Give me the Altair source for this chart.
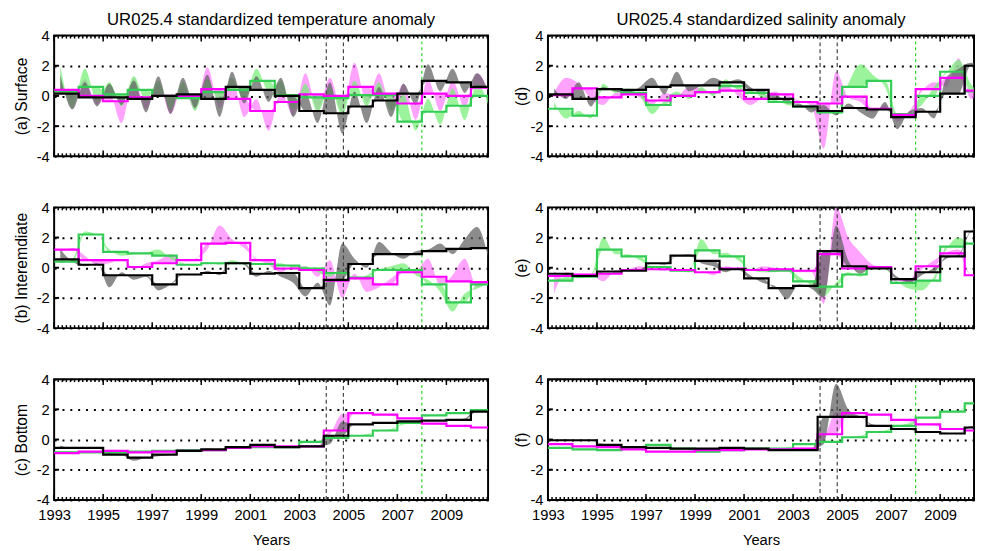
import altair as alt
import pandas as pd

YEARS = list(range(1993, 2011))
TICK_YEARS = [1993, 1995, 1997, 1999, 2001, 2003, 2005, 2007, 2009]
Y_TICKS = [-2, 0, 2]
EVENT_BLACK = [2004.1, 2004.8]
EVENT_GREEN = [2008.0]
X_END_LEFT = 2010.7
X_END_RIGHT = 2010.38
W_LEFT = 442
W_RIGHT = 434
H = 123

TITLE_T = "UR025.4 standardized temperature anomaly"
TITLE_S = "UR025.4 standardized salinity anomaly"

# ---------------- annual (step) values, 1993..2010 ----------------
a_black = [0.15, -0.1, -0.1, -0.2, 0.0, 0.1, -0.2, 0.6, 0.4, 0.0, -1.0, -1.15, -0.7, -0.3, 0.15, 1.0, 0.9, 0.6]
a_magenta = [0.4, 0.0, -0.35, -0.1, 0.0, 0.0, 0.45, -0.2, -1.0, -0.4, 0.1, 0.0, 0.6, 0.15, -0.5, 0.15, 0.0, 0.55]
a_green = [0.3, 0.6, 0.1, 0.4, 0.0, -0.15, 0.25, 0.4, 1.0, 0.05, -0.1, -0.15, 0.05, 0.05, -1.7, -1.05, -0.65, 0.0]

b_black = [0.55, 0.2, -0.5, -0.5, -1.1, -0.45, -0.35, 0.3, -0.4, -0.35, -1.35, -0.8, 0.25, 0.9, 0.9, 1.1, 1.25, 1.3]
b_magenta = [1.2, 0.5, 0.5, 0.05, 0.3, 0.5, 1.6, 1.65, 0.5, -0.05, -0.15, -0.85, -0.7, -1.1, -0.3, -0.6, -0.9, -0.95]
b_green = [0.4, 2.2, 1.05, 0.95, 0.8, 0.2, 0.3, 0.3, 0.25, 0.15, -0.05, -0.35, -0.65, -0.15, -0.15, -1.1, -2.3, -1.1]

c_black = [-0.55, -0.55, -1.0, -1.2, -1.0, -0.75, -0.65, -0.5, -0.35, -0.5, -0.45, 0.25, 1.0, 1.1, 1.2, 1.25, 1.3, 1.85]
c_magenta = [-0.9, -0.8, -0.75, -0.85, -0.8, -0.75, -0.7, -0.55, -0.45, -0.45, -0.45, 0.6, 1.75, 1.65, 1.4, 1.05, 0.9, 0.8]
c_green = [-0.85, -0.85, -0.85, -0.8, -0.75, -0.7, -0.7, -0.55, -0.5, -0.5, -0.15, 0.1, 0.25, 0.6, 1.1, 1.6, 1.75, 1.95]

d_black = [0.1, -0.2, 0.45, 0.4, 0.6, 0.7, 0.7, 0.9, 0.4, -0.2, -0.7, -1.0, -0.8, -0.9, -1.4, -1.05, 0.15, 2.0]
d_magenta = [0.05, 0.5, -0.1, 0.1, -0.3, 0.0, 0.25, 0.35, -0.2, 0.1, -0.4, -0.5, -0.05, -0.85, -1.25, 0.45, 1.2, 0.35]
d_green = [-0.85, -1.3, 0.45, 0.2, -0.6, 0.0, 0.25, 0.65, 0.2, -0.4, -0.7, -1.1, 0.6, 1.0, -1.2, 0.0, 1.6, 0.3]

e_black = [-0.4, -0.55, -0.25, -0.2, 0.3, 0.8, 0.45, -0.1, -0.7, -1.35, -1.2, 1.1, 0.1, -0.05, -0.75, -0.3, 0.75, 2.4]
e_magenta = [-0.55, -0.45, -0.4, -0.15, -0.1, -0.15, -0.3, -0.05, -0.15, -0.1, -0.2, 0.9, -0.05, 0.05, -0.75, 0.1, 0.95, -0.5]
e_green = [-0.85, -0.6, 1.2, 0.75, 0.05, -0.2, 1.15, 0.75, -0.15, -0.2, -0.9, -1.25, -0.45, 0.0, -1.0, -0.85, 1.4, 1.6]

f_black = [-0.05, -0.05, -0.35, -0.5, -0.55, -0.6, -0.6, -0.55, -0.6, -0.7, -0.7, 1.5, 1.5, 0.9, 0.7, 0.5, 0.4, 0.8]
f_magenta = [-0.3, -0.45, -0.5, -0.65, -0.8, -0.8, -0.7, -0.7, -0.65, -0.65, -0.6, 0.35, 1.75, 1.65, 1.3, 1.0, 0.7, 0.6]
f_green = [-0.55, -0.65, -0.7, -0.5, -0.35, -0.6, -0.8, -0.7, -0.6, -0.6, -0.3, -0.15, 0.15, 0.5, 0.9, 1.45, 1.85, 2.4]

# ------------- sub-annual values (Y+0.25, Y+0.75), 1993..2010 -------------
a_black_sh = [1.4, -0.9, 0.9, -0.7, 0.8, -0.6, 1.0, -1.1, 1.3, -1.2, 1.2, -0.8, 1.4, -1.4, 1.6, -0.5, 1.3, -0.4,
              1.2, -1.4, 0.2, -1.8, 0.9, -2.5, 0.3, -1.8, 0.6, -1.4, 0.8, -0.6, 2.1, 0.3, 1.8, 0.2, 1.5, 0.1]
a_magenta_sh = [0.9, -0.3, 1.1, -0.6, 0.2, -1.8, 1.2, -0.9, 0.8, -1.2, 0.6, -0.9, 1.9, -0.8, 1.2, -1.4, -0.2, -2.3,
                0.3, -1.3, 1.5, -1.0, 1.2, -1.1, 2.2, -0.5, 1.5, -0.8, 0.8, -1.6, 1.1, -1.0, 1.0, -0.8, 1.5, 0.2]
a_green_sh = [2.0, -0.8, 1.8, -0.4, 0.9, -0.7, 1.3, -0.4, 1.0, -0.9, 0.9, -1.0, 1.1, -0.5, 1.2, -0.3, 1.8, 0.3,
              1.0, -0.9, 0.8, -1.1, 0.6, -1.3, 1.0, -0.7, 0.9, -1.0, 0.1, -2.3, -0.2, -1.9, 0.5, -1.6, 0.8, -0.8]

b_black_sh = [1.2, 0.4, 0.1, 0.3, -1.3, -0.3, -0.8, -0.6, -1.5, -1.1, -0.4, -0.5, -0.2, -0.5, 0.4, 0.2, -0.6, -0.2,
              -0.6, -1.0, -1.9, -1.0, -2.5, 1.6, 0.6, 0.0, 1.7, 1.0, 0.6, 1.1, 1.2, 1.6, 0.9, 1.9, 2.7, 0.4]
b_magenta_sh = [1.0, 1.3, 0.8, 0.2, 0.3, 0.6, -0.1, 0.3, 0.5, 0.9, 0.5, 0.6, 1.2, 2.8, 1.9, 1.3, 0.6, 0.2,
                -0.3, 0.1, 0.1, -0.6, 0.5, -2.0, -0.4, -1.6, -1.3, -0.7, -0.2, -0.2, 0.6, -1.2, -0.5, 0.6, -1.3, -0.8]
b_green_sh = [0.3, 0.6, 2.4, 2.2, 1.2, 0.8, 0.9, 1.0, 1.2, 0.6, 0.3, 0.1, 0.4, 0.2, 0.5, 0.3, 0.2, 0.3,
              0.3, 0.0, 0.1, -0.3, -0.6, -0.1, -0.8, -0.5, -0.1, 0.1, 0.3, -0.5, -0.8, -1.6, -2.9, -1.7, -1.4, -1.0]

c_black_sh = [-0.4, -0.6, -0.55, -0.55, -0.9, -1.0, -1.4, -1.2, -1.1, -1.0, -0.75, -0.75, -0.6, -0.65, -0.5, -0.45,
              -0.35, -0.4, -0.5, -0.5, -0.5, -0.45, -0.3, 1.2, 1.0, 1.0, 1.1, 1.1, 1.2, 1.2, 1.25, 1.25, 1.3, 1.4, 2.0, 1.9]
c_magenta_sh = [-0.85, -0.9, -0.8, -0.8, -0.75, -0.8, -0.9, -0.85, -0.8, -0.8, -0.75, -0.7, -0.7, -0.65, -0.55, -0.5,
                -0.45, -0.45, -0.45, -0.45, -0.45, -0.4, 0.3, 1.7, 1.75, 1.75, 1.65, 1.6, 1.4, 1.35, 1.05, 1.0, 0.9, 0.85, 0.8, 0.8]
c_green_sh = [-0.8, -0.9, -0.85, -0.85, -0.8, -0.9, -0.8, -0.75, -0.75, -0.7, -0.7, -0.7, -0.7, -0.65, -0.55, -0.5,
              -0.5, -0.5, -0.5, -0.45, -0.2, -0.1, 0.05, 0.15, 0.25, 0.35, 0.55, 0.7, 1.0, 1.2, 1.55, 1.65, 1.75, 1.8, 1.9, 2.0]

d_black_sh = [0.5, -0.2, 0.9, -0.7, 0.6, 0.3, 0.2, 0.6, 1.2, 0.1, 1.6, 0.3, 0.7, 1.2, 0.9, 1.1, 0.6, 0.1,
              0.2, -0.5, -0.5, -1.1, -0.6, -1.3, -0.5, -1.1, -1.5, -0.4, -2.2, -1.0, -0.8, -1.5, 1.2, 1.8, 2.2, 1.9]
d_magenta_sh = [0.2, 1.2, 0.8, -0.2, -0.6, 0.2, 0.3, -0.1, -0.6, 0.2, 0.0, 0.6, 0.5, 0.1, 0.7, 0.0, -0.6, -0.1,
                0.3, -0.1, -0.3, -0.7, -3.5, 1.6, -0.1, -0.4, -1.1, -0.6, -1.7, -1.0, 0.3, 0.9, 0.6, 2.5, -0.2, 0.4]
d_green_sh = [-0.4, -1.5, -1.0, -1.5, 0.8, 0.2, 0.5, 0.0, -1.2, -0.3, 0.3, -0.2, 0.6, 0.0, 1.1, 0.4, 0.4, -0.1,
              -0.2, -0.6, -0.7, -0.9, -1.0, -1.2, 0.8, 2.1, 1.4, 0.6, -1.5, -1.1, -0.6, 0.6, 1.5, 2.4, 0.8, 0.0]

e_black_sh = [-0.3, -0.5, -0.6, -0.5, -0.3, -0.2, -0.2, -0.1, 0.3, 0.2, 0.8, 0.9, 0.3, 0.1, -0.3, 0.0, -0.5, -1.0,
              -1.2, -2.1, -1.1, -1.4, -2.0, 2.8, 0.5, -0.4, 0.1, 0.0, -0.6, -1.0, -0.5, 0.0, 0.6, 0.9, 2.4, 3.0]
e_magenta_sh = [-1.7, -0.3, -0.5, -0.5, -0.9, -0.2, -0.1, 0.1, -0.1, -0.2, -0.1, -0.3, -0.3, -0.5, 0.1, -0.1, -0.2, 0.1,
                0.0, -0.1, -0.3, -0.3, -2.4, 4.0, 2.0, 1.0, 0.2, 0.0, -0.8, -1.0, -0.1, 0.5, 1.0, 1.2, -0.5, -0.7]
e_green_sh = [-0.9, -0.6, -0.7, -0.5, 2.0, 0.9, 0.9, 0.5, 0.1, 0.0, -0.2, -0.3, 1.9, 0.9, 1.0, 0.5, -0.1, -0.3,
              -0.3, -0.1, -0.6, -1.2, -1.9, -1.0, -0.3, -0.6, 0.1, -0.1, -0.9, -1.4, -1.5, -0.6, 1.2, 2.0, 1.6, 1.5]

f_black_sh = [-0.05, 0.0, -0.1, -0.1, -0.3, -0.4, -0.5, -0.5, -0.55, -0.55, -0.6, -0.6, -0.6, -0.6, -0.55, -0.55,
              -0.6, -0.6, -0.7, -0.7, -0.7, -0.65, -0.3, 3.7, 2.0, 1.5, 1.0, 0.9, 0.75, 0.65, 0.5, 0.5, 0.45, 0.4, 0.9, 0.9]
f_magenta_sh = [-0.2, -0.35, -0.45, -0.45, -0.5, -0.55, -0.65, -0.7, -0.8, -0.8, -0.8, -0.75, -0.7, -0.7, -0.7, -0.7,
                -0.65, -0.65, -0.65, -0.6, -0.6, -0.55, 0.0, 1.8, 1.75, 1.75, 1.65, 1.6, 1.3, 1.2, 1.0, 0.95, 0.7, 0.65, 0.6, 0.6]
f_green_sh = [-0.5, -0.6, -0.65, -0.65, -0.7, -0.65, -0.5, -0.45, -0.3, -0.4, -0.6, -0.7, -0.8, -0.8, -0.7, -0.65,
              -0.6, -0.6, -0.6, -0.55, -0.3, -0.25, -0.15, -0.1, 0.15, 0.25, 0.5, 0.6, 0.9, 1.1, 1.45, 1.5, 1.85, 1.9, 2.4, 2.3]

FONT = "Liberation Sans"
C_BLACK = "#000000"
C_MAG = "#ff00ff"
C_GREEN = "#33cc55"
SH_GREY = "#606060"
SH_MAG = "#ff66ff"
SH_GREEN = "#70f070"


def step_df(vals, xmax):
    return pd.DataFrame({"t": YEARS + [xmax], "v": vals + [vals[-1]]})


def shade_df(curve, steps):
    t, s = [], []
    for i, y in enumerate(YEARS):
        t += [y + 0.25, y + 0.75]
        s += [steps[i], steps[i]]
    return pd.DataFrame({"t": t, "v": curve, "s": s})


def panel(steps, shades, ytitle, xmax, width, bottom, title_x, title=None):
    xs = alt.Scale(domain=[1993, xmax], nice=False, zero=False)
    ys = alt.Scale(domain=[-4, 4], nice=False, zero=False)
    if bottom:
        xaxis = alt.Axis(values=TICK_YEARS, format="d", ticks=False, domain=False, grid=False,
                         labelPadding=8, labelFlush=False, title="Years", titlePadding=10)
    else:
        xaxis = alt.Axis(values=TICK_YEARS, labels=False, ticks=False, domain=False, grid=False, title=None)
    yaxis = alt.Axis(values=[-4, -2, 0, 2, 4], grid=True, gridColor="black", gridDash=[2, 6], gridWidth=2,
                     gridOpacity=1, ticks=False, domain=False, labelPadding=5,
                     labelExpr="datum.value < 0 ? '-' + abs(datum.value) : '' + datum.value",
                     title=ytitle, titleX=title_x, titleBaseline="middle", titleFontSize=16)
    X = alt.X("t:Q", scale=xs, axis=xaxis)
    Y = alt.Y("v:Q", scale=ys, axis=yaxis)

    layers = []
    for curve, st, col, op in [(shades[1], steps[1], SH_MAG, 0.6),
                               (shades[2], steps[2], SH_GREEN, 0.7),
                               (shades[0], steps[0], SH_GREY, 0.72)]:
        layers.append(
            alt.Chart(shade_df(curve, st)).mark_area(interpolate="monotone", color=col, opacity=op, clip=True)
            .encode(x=X, y=Y, y2="s:Q")
        )

    ev_b = pd.DataFrame({"t": EVENT_BLACK})
    ev_g = pd.DataFrame({"t": EVENT_GREEN})
    layers.append(alt.Chart(ev_b).mark_rule(color="#444444", strokeDash=[4, 3], strokeWidth=1.2)
                  .encode(x=X))
    layers.append(alt.Chart(ev_g).mark_rule(color="#00cc00", strokeDash=[3, 3], strokeWidth=1)
                  .encode(x=X))

    for st, col in [(steps[2], C_GREEN), (steps[1], C_MAG), (steps[0], C_BLACK)]:
        layers.append(alt.Chart(step_df(st, xmax)).mark_line(interpolate="step-after", color=col,
                                                             strokeWidth=2.2, clip=True)
                      .encode(x=X, y=Y))

    # inward border ticks
    minor = pd.DataFrame({"t": [1993 + k / 6 for k in range(int((xmax - 1993) * 6) + 1)]})
    major = pd.DataFrame({"t": TICK_YEARS})
    for df, ln in [(minor, 3), (major, 6)]:
        layers.append(alt.Chart(df).mark_rule(color="black", strokeWidth=1.5)
                      .encode(x=X, y=alt.value(0), y2=alt.value(ln)))
        layers.append(alt.Chart(df).mark_rule(color="black", strokeWidth=1.5)
                      .encode(x=X, y=alt.value(H), y2=alt.value(H - ln)))
    yt = pd.DataFrame({"v": Y_TICKS})
    layers.append(alt.Chart(yt).mark_rule(color="black", strokeWidth=2)
                  .encode(y=Y, x=alt.value(0), x2=alt.value(5)))

    ch = alt.layer(*layers)
    if title:
        ch = ch.properties(width=width, height=H,
                           title=alt.TitleParams(title, fontSize=17, fontWeight="normal", font=FONT,
                                                 offset=0, anchor="middle", color="black"))
    else:
        ch = ch.properties(width=width, height=H)
    return ch


pa = panel([a_black, a_magenta, a_green], [a_black_sh, a_magenta_sh, a_green_sh], "(a) Surface",
           X_END_LEFT, W_LEFT, False, -33, TITLE_T)
pb = panel([b_black, b_magenta, b_green], [b_black_sh, b_magenta_sh, b_green_sh], "(b) Interemdiate",
           X_END_LEFT, W_LEFT, False, -33)
pc = panel([c_black, c_magenta, c_green], [c_black_sh, c_magenta_sh, c_green_sh], "(c) Bottom",
           X_END_LEFT, W_LEFT, True, -33)
pd_ = panel([d_black, d_magenta, d_green], [d_black_sh, d_magenta_sh, d_green_sh], "(d)",
            X_END_RIGHT, W_RIGHT, False, -27, TITLE_S)
pe = panel([e_black, e_magenta, e_green], [e_black_sh, e_magenta_sh, e_green_sh], "(e)",
           X_END_RIGHT, W_RIGHT, False, -27)
pf = panel([f_black, f_magenta, f_green], [f_black_sh, f_magenta_sh, f_green_sh], "(f)",
           X_END_RIGHT, W_RIGHT, True, -27)

left = alt.vconcat(pa, pb, pc, spacing=35)
right = alt.vconcat(pd_, pe, pf, spacing=35)
chart = (
    alt.hconcat(left, right, spacing=24)
    .properties(padding={"left": 4, "top": -3, "right": 0, "bottom": 0})
    .configure_view(stroke="black", strokeWidth=2)
    .configure_axis(labelFont=FONT, titleFont=FONT, labelFontSize=15, titleFontSize=15,
                    titleFontWeight="normal", labelColor="black", titleColor="black")
)

chart.save("out.html", embed_options={"renderer": "svg", "actions": False})
